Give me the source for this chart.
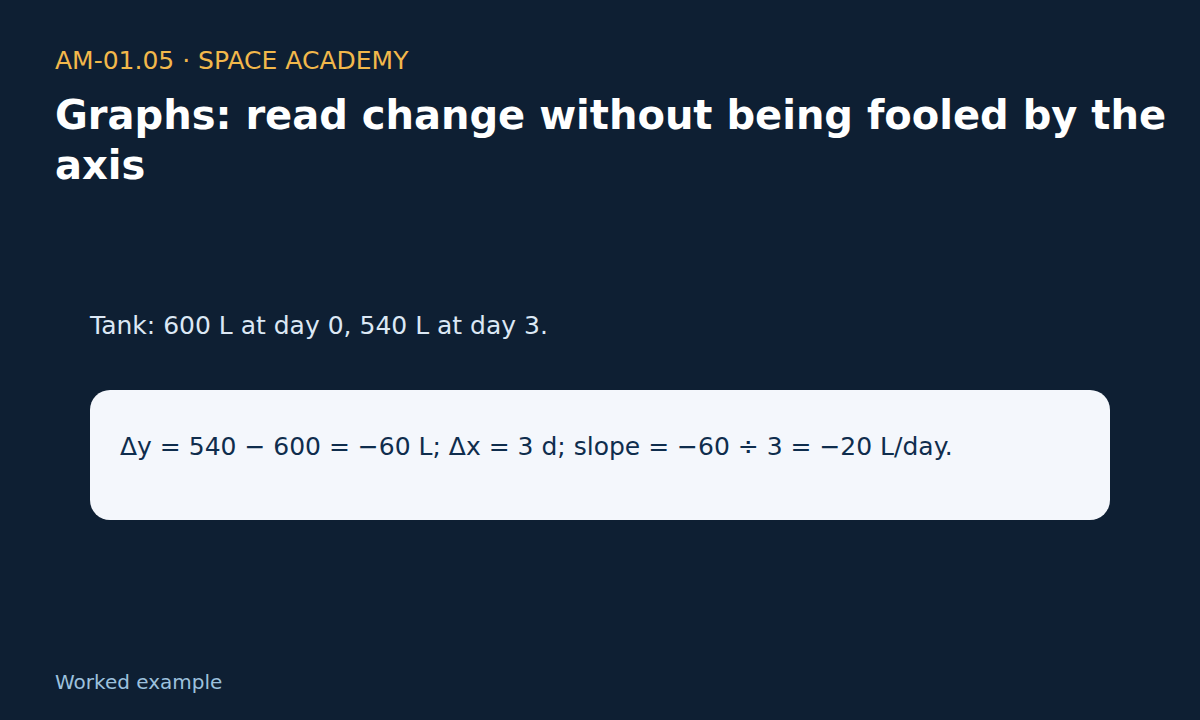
<!DOCTYPE html>
<html>
<head>
<meta charset="utf-8">
<script src="https://cdn.jsdelivr.net/npm/chart.js@4.4.0/dist/chart.umd.min.js"></script>
<style>
    html, body {
        margin: 0;
        padding: 0;
        width: 1200px;
        height: 720px;
        background: #0e1f33;
        font-family: "DejaVu Sans", sans-serif;
        overflow: hidden;
    }
    .kicker {
        position: absolute;
        left: 55px;
        top: 46px;
        font-size: 25px;
        color: #f2b84b;
    }
    .title {
        position: absolute;
        left: 55px;
        top: 90px;
        width: 1130px;
        font-size: 40px;
        line-height: 50px;
        font-weight: bold;
        color: #ffffff;
    }
    .lead {
        position: absolute;
        left: 90px;
        top: 311px;
        font-size: 25px;
        color: #dce8f5;
    }
    .box {
        position: absolute;
        left: 90px;
        top: 390px;
        width: 1020px;
        height: 130px;
        border-radius: 20px;
        background: #f4f7fc;
    }
    .box p {
        margin: 0;
        position: absolute;
        left: 30px;
        top: 42px;
        font-size: 25px;
        white-space: nowrap;
        color: #0f2d4d;
    }
    .foot {
        position: absolute;
        left: 55px;
        top: 670px;
        font-size: 20px;
        color: #9cc1de;
    }
</style>
</head>
<body>
<div class="kicker">AM-01.05 · SPACE ACADEMY</div>
<div class="title">Graphs: read change without being fooled by the axis</div>
<div class="lead" id="lead"></div>
<div class="box"><p id="work"></p></div>
<div class="foot">Worked example</div>

<script>
// tank readings: day -> litres
var days = [0, 3];
var litres = [600, 540];
var unitY = "L";
var unitX = "d";

var minus = function(n) {
    return n < 0 ? "\u2212" + Math.abs(n) : String(n);
};

var dy = litres[1] - litres[0];
var dx = days[1] - days[0];
var slope = dy / dx;

document.getElementById("lead").textContent =
    "Tank: " + litres[0] + " " + unitY + " at day " + days[0] + ", " +
    litres[1] + " " + unitY + " at day " + days[1] + ".";

document.getElementById("work").textContent =
    "\u0394y = " + litres[1] + " \u2212 " + litres[0] + " = " + minus(dy) + " " + unitY +
    "; \u0394x = " + dx + " " + unitX +
    "; slope = " + minus(dy) + " \u00f7 " + dx + " = " + minus(slope) + " " + unitY + "/day.";
</script>
</body>
</html>
